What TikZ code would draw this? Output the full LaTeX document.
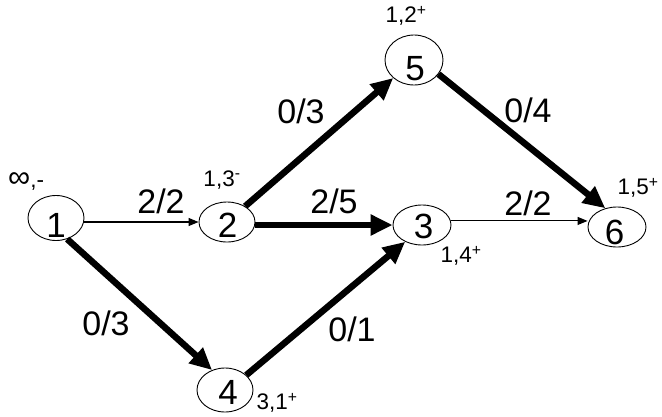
\documentclass[tikz,border=0pt]{standalone}
\usepackage{fontspec}
\setmainfont{Liberation Sans}
\usetikzlibrary{arrows.meta,shapes.geometric}
\begin{document}
\begin{tikzpicture}[x=1pt,y=-1pt,
  vert/.style={ellipse,draw,line width=0.9pt,inner sep=0pt,minimum width=56pt,minimum height=42pt},
  num/.style={font=\fontsize{35}{35}\selectfont,inner sep=0pt},
  flow/.style={font=\fontsize{34}{34}\selectfont,inner sep=0pt},
  tag/.style={font=\fontsize{22.5}{22.5}\selectfont,inner sep=0pt},
  thinarc/.style={line width=1.1pt,-{Triangle[length=10pt,width=8pt]}},
  heavyarc/.style={line width=6.5pt,-{Triangle[length=22pt,width=20pt]}},
]
\useasboundingbox (0,0) rectangle (662,416);

% vertices
\node[vert,minimum height=45pt] (n1) at (56,218) {};
\node[vert,minimum height=40pt] (n2) at (227,222) {};
\node[vert,minimum width=58pt,minimum height=40pt] (n3) at (422,225) {};
\node[vert,minimum height=44pt] (n4) at (225,390) {};
\node[vert,minimum width=58pt,minimum height=50pt] (n5) at (414,60) {};
\node[vert,minimum width=58pt,minimum height=40pt] (n6) at (617,227) {};

% vertex numbers
\node[num] (t1) at (56,225) {1};
\node[num] (t2) at (227.5,225) {2};
\node[num] (t3) at (423.5,226) {3};
\node[num] (t4) at (228,392) {4};
\node[num] (t5) at (415,69) {5};
\node[num] (t6) at (614.5,232) {6};

% arcs
\draw[thinarc] (n1.east |- n2.west) -- (n2.west);
\draw[heavyarc] (n2.east |- n3.west) -- (n3.west);
\draw[heavyarc] (n2) -- (n5);
\draw[heavyarc] (n1.-62) -- (n4.123);
\draw[heavyarc] (n4.35) -- (n3.-135);
\draw[heavyarc] (n5.-30) -- (n6.122);
\draw[thinarc] (n3.8) -- (n6.west |- n3.8);

% flow labels
\node[flow] (f12) at (161,201) {2/2};
\node[flow] (f25) at (301,111) {0/3};
\node[flow] (f23) at (334,201) {2/5};
\node[flow] (f56) at (528,110) {0/4};
\node[flow] (f36) at (528,203) {2/2};
\node[flow] (f14) at (106,323) {0/3};
\node[flow] (f43) at (352,329) {0/1};

% vertex labels
\node[tag,anchor=base west] (l1) at (8,187) {{\fontsize{31}{31}\selectfont ∞},-};
\node[tag] (l2) at (222,180) {1,3\textsuperscript{-}};
\node[tag] (l5) at (406,16) {1,2\textsuperscript{+}};
\node[tag] (l3) at (461,256) {1,4\textsuperscript{+}};
\node[tag] (l6) at (638,188) {1,5\textsuperscript{+}};
\node[tag] (l4) at (277,403) {3,1\textsuperscript{+}};
\end{tikzpicture}
\end{document}
